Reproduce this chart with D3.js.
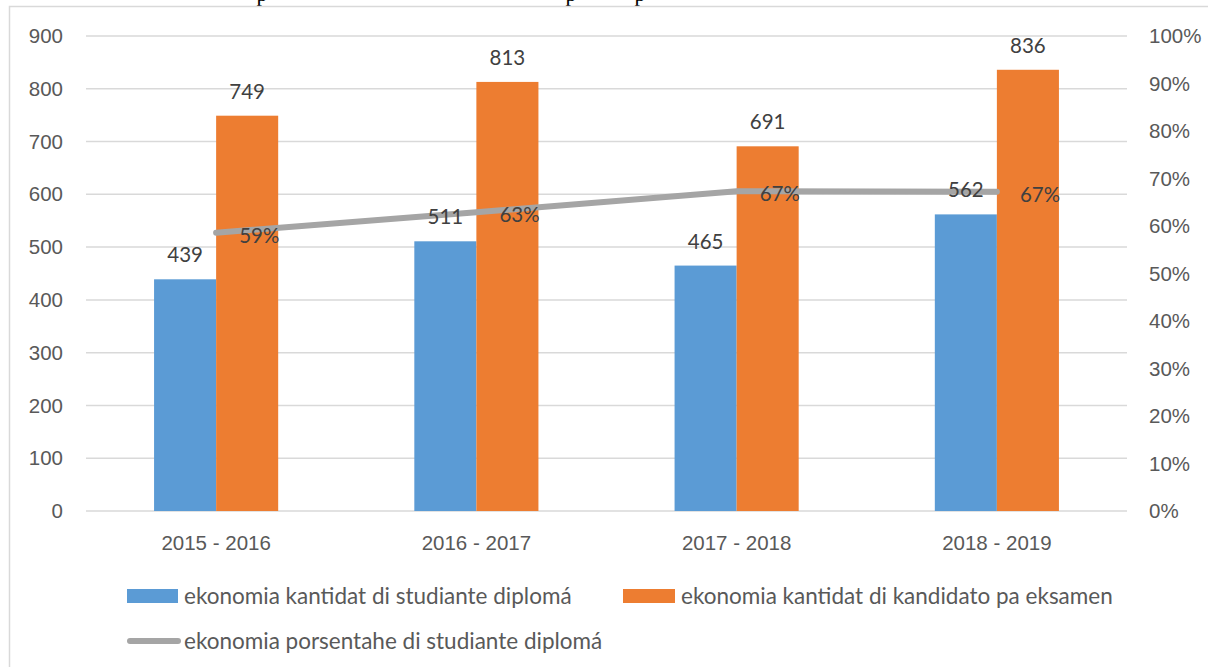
<!DOCTYPE html>
<html>
<head>
<meta charset="utf-8">
<script src="https://cdn.jsdelivr.net/npm/d3@7"></script>
<style>
  html, body { margin: 0; padding: 0; background: #fff; }
  svg { display: block; font-family: Lato, "Open Sans", sans-serif; }
</style>
</head>
<body>
<svg id="chart" width="1208" height="667"></svg>
<script>
// data
const categories = ["2015 - 2016", "2016 - 2017", "2017 - 2018", "2018 - 2019"];
const graduates = [439, 511, 465, 562];
const candidates = [749, 813, 691, 836];
const percentage = [0.586, 0.629, 0.673, 0.672];
const leftTicks = [0, 100, 200, 300, 400, 500, 600, 700, 800, 900];
const rightTicks = [0, 0.1, 0.2, 0.3, 0.4, 0.5, 0.6, 0.7, 0.8, 0.9, 1];
const seriesNames = [
    "ekonomia kantidat di studiante diplomá",
    "ekonomia kantidat di kandidato pa eksamen",
    "ekonomia porsentahe di studiante diplomá"
];

const blue = "#5B9BD5", orange = "#ED7D31", gray = "#A5A5A5";
const axisText = "#595959", labelText = "#404040", gridColor = "#D9D9D9";

const svg = d3.select("#chart");

// ==========================
// frame and cut-off title above it
// ==========================
svg.selectAll(".cut")
    .data([262, 571, 640])
    .enter().append("text")
    .attr("class", "cut")
    .attr("x", d => d)
    .attr("y", 1)
    .attr("text-anchor", "middle")
    .attr("font-family", "Liberation Serif, serif")
    .attr("font-size", 22)
    .attr("fill", "#000")
    .text("p");

svg.append("path")
    .attr("d", "M9.5,667 V6.5 H1208")
    .attr("fill", "none")
    .attr("stroke", gridColor)
    .attr("stroke-width", 1.5);

// ==========================
// scales
// ==========================
const x = d3.scaleBand().domain(categories).range([86, 1127]);
const xInner = d3.scaleBand().domain(["grad", "cand"]).range([0, x.bandwidth()])
    .paddingInner(0).paddingOuter(1.097);
const yL = d3.scaleLinear().domain([0, 900]).range([511, 36]);
const yR = d3.scaleLinear().domain([0, 1]).range([511, 36]);

// gridlines
svg.append("g").selectAll("line")
    .data(leftTicks)
    .enter().append("line")
    .attr("x1", 86).attr("x2", 1127)
    .attr("y1", d => yL(d)).attr("y2", d => yL(d))
    .attr("stroke", gridColor)
    .attr("stroke-width", 1.5);

// left axis
const leftAxis = svg.append("g")
    .attr("transform", "translate(86,0)")
    .call(d3.axisLeft(yL).tickValues(leftTicks).tickSize(0).tickPadding(23));
leftAxis.select(".domain").remove();
leftAxis.selectAll("text")
    .attr("fill", axisText).attr("font-size", 20.5).attr("font-family", null);

// right axis
const rightAxis = svg.append("g")
    .attr("transform", "translate(1127,0)")
    .call(d3.axisRight(yR).tickValues(rightTicks).tickFormat(d3.format(".0%")).tickSize(0).tickPadding(22));
rightAxis.select(".domain").remove();
rightAxis.selectAll("text")
    .attr("fill", axisText).attr("font-size", 20.5).attr("font-family", null);

// bottom axis
const bottomAxis = svg.append("g")
    .attr("transform", "translate(0,511)")
    .call(d3.axisBottom(x).tickSize(0).tickPadding(24));
bottomAxis.select(".domain").remove();
bottomAxis.selectAll("text")
    .attr("fill", axisText).attr("font-size", 20.5).attr("font-family", null);

// ==========================
// bars
// ==========================
const barSeries = [
    { key: "grad", values: graduates, color: blue },
    { key: "cand", values: candidates, color: orange }
];

barSeries.forEach(s => {
    svg.append("g").selectAll("rect")
        .data(categories)
        .enter().append("rect")
        .attr("x", d => x(d) + xInner(s.key))
        .attr("y", (d, i) => yL(s.values[i]))
        .attr("width", xInner.bandwidth())
        .attr("height", (d, i) => yL(0) - yL(s.values[i]))
        .attr("fill", s.color);
});

// ==========================
// percentage line
// ==========================
const lineX = d => x(d) + x.bandwidth() / 2;
const line = d3.line()
    .x((d, i) => lineX(categories[i]))
    .y(d => yR(d));

svg.append("path")
    .datum(percentage)
    .attr("d", line)
    .attr("fill", "none")
    .attr("stroke", gray)
    .attr("stroke-width", 6)
    .attr("stroke-linecap", "round")
    .attr("stroke-linejoin", "round");

// data labels sit on top of the line
barSeries.forEach(s => {
    svg.append("g").selectAll("text")
        .data(categories)
        .enter().append("text")
        .attr("x", d => x(d) + xInner(s.key) + xInner.bandwidth() / 2)
        .attr("y", (d, i) => yL(s.values[i]) - 17)
        .attr("text-anchor", "middle")
        .attr("fill", labelText)
        .attr("font-size", 20.5)
        .text((d, i) => s.values[i]);
});

svg.append("g").selectAll("text")
    .data(percentage)
    .enter().append("text")
    .attr("x", (d, i) => lineX(categories[i]) + 23)
    .attr("y", d => yR(d) + 10)
    .attr("fill", labelText)
    .attr("font-size", 20.5)
    .text(d3.format(".0%"));

// ==========================
// legend
// ==========================
const legend = svg.append("g").attr("font-size", 22.5).attr("fill", axisText);

legend.append("rect").attr("x", 127).attr("y", 589).attr("width", 51).attr("height", 14).attr("fill", blue);
legend.append("text").attr("x", 184).attr("y", 604).text(seriesNames[0]);

legend.append("rect").attr("x", 623).attr("y", 589).attr("width", 52).attr("height", 14).attr("fill", orange);
legend.append("text").attr("x", 681).attr("y", 604).text(seriesNames[1]);

legend.append("line").attr("x1", 130).attr("x2", 178).attr("y1", 641).attr("y2", 641)
    .attr("stroke", gray).attr("stroke-width", 6).attr("stroke-linecap", "round");
legend.append("text").attr("x", 184).attr("y", 649).text(seriesNames[2]);
</script>
</body>
</html>
